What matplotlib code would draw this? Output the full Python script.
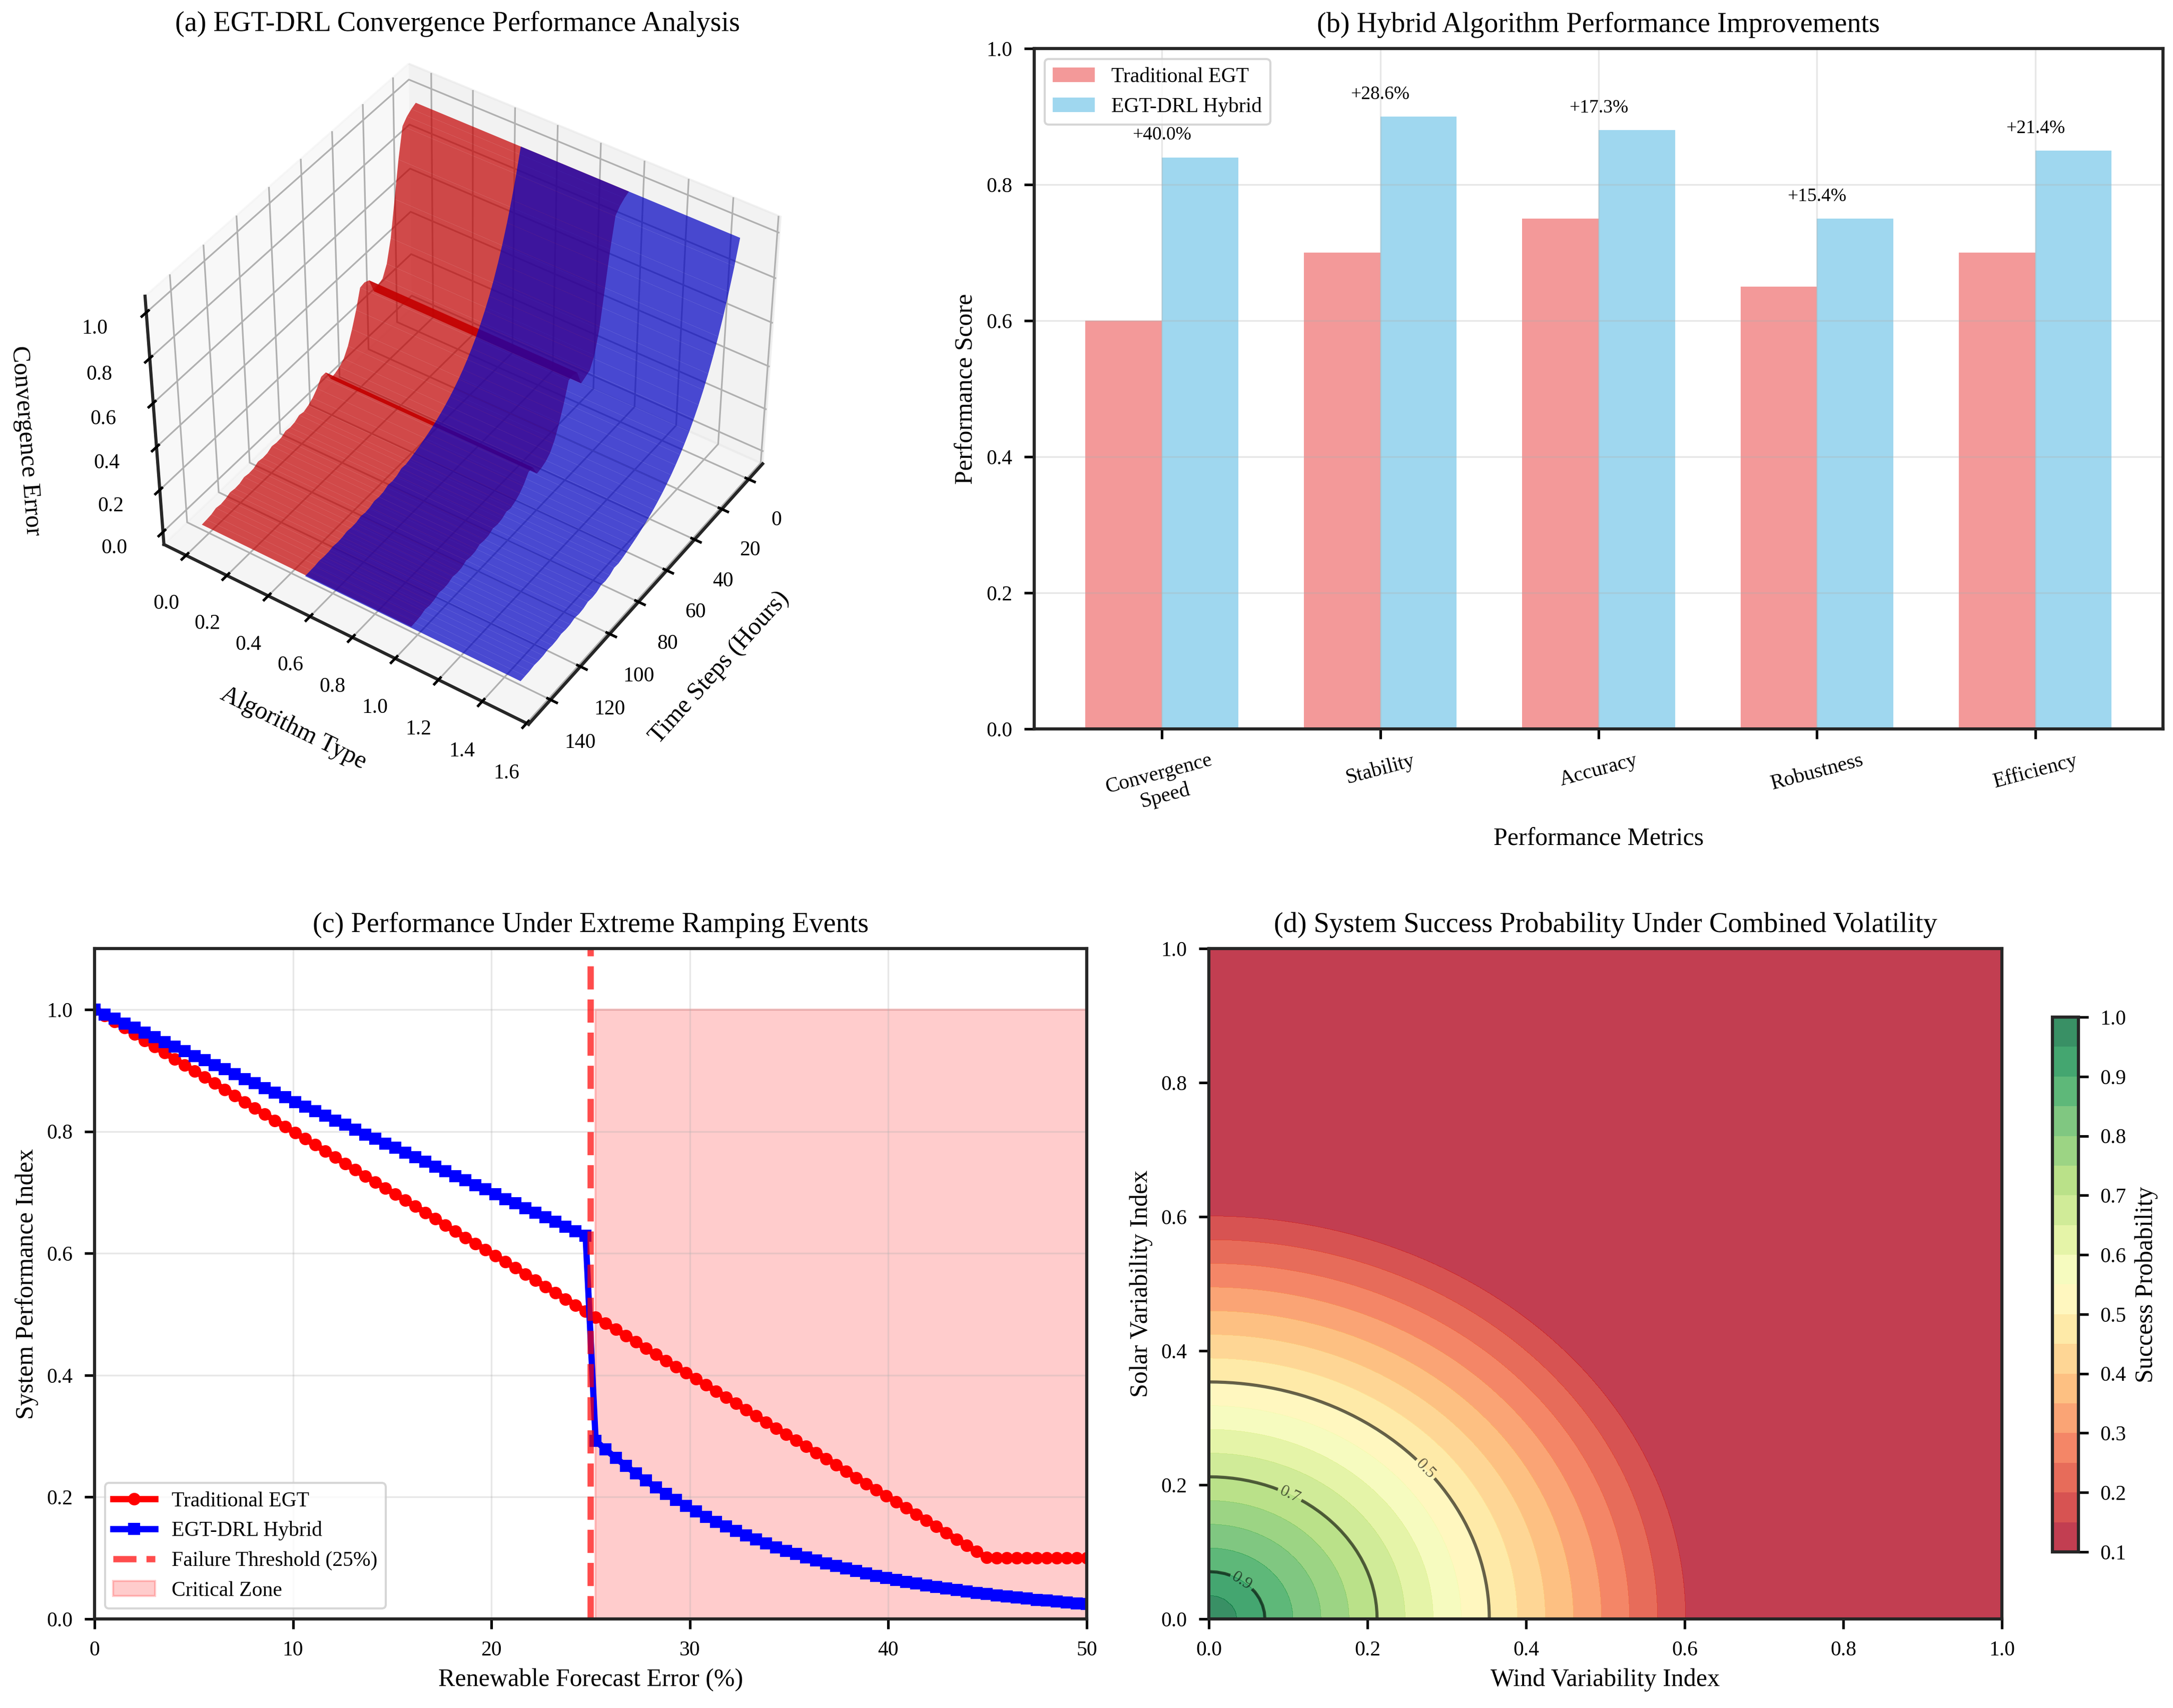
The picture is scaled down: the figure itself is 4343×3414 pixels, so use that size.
import numpy as np
import matplotlib
matplotlib.use("Agg")
import matplotlib.pyplot as plt
from mpl_toolkits.mplot3d import Axes3D  # noqa

plt.rcParams['font.family'] = ['Liberation Serif', 'DejaVu Serif']
plt.rcParams['font.size'] = 10
plt.rcParams['axes.linewidth'] = 1.5
plt.rcParams['axes.edgecolor'] = '0.15'
for ax_ in ('xtick', 'ytick'):
    plt.rcParams[f'{ax_}.major.size'] = 4.8
    plt.rcParams[f'{ax_}.major.width'] = 1.25
    plt.rcParams[f'{ax_}.major.pad'] = 5.6
plt.rcParams['axes.titlepad'] = 8

# ---------------- data ----------------
# (a) convergence error surfaces
hours = [0, 3, 6, 9, 12, 15, 18, 21, 24, 27, 30, 33, 36, 39, 42, 45, 48, 51, 54, 57,
         60, 63, 66, 69, 72, 75, 78, 81, 84, 87, 90, 93, 96, 99, 102, 105, 108, 111,
         114, 117, 120, 123, 126, 129, 132, 135, 138, 141, 144]
trad_err = [1.00, 0.99, 0.975, 0.95, 0.82, 0.66, 0.50, 0.40, 0.35, 0.34, 0.33, 0.40,
            0.41, 0.405, 0.32, 0.25, 0.19, 0.15, 0.13, 0.12, 0.115, 0.165, 0.165, 0.13,
            0.105, 0.09, 0.08, 0.085, 0.072, 0.068, 0.072, 0.06, 0.058, 0.062, 0.05,
            0.048, 0.052, 0.04, 0.038, 0.042, 0.032, 0.03, 0.034, 0.024, 0.02, 0.024,
            0.015, 0.012, 0.01]
hyb_err = [1.00, 0.895, 0.801, 0.717, 0.641, 0.574, 0.513, 0.459, 0.411, 0.368, 0.329,
           0.295, 0.264, 0.236, 0.211, 0.189, 0.169, 0.151, 0.135, 0.121, 0.108, 0.097,
           0.087, 0.078, 0.070, 0.062, 0.056, 0.058, 0.045, 0.040, 0.043, 0.032, 0.029,
           0.032, 0.023, 0.020, 0.024, 0.016, 0.015, 0.018, 0.012, 0.010, 0.013, 0.008,
           0.0075, 0.010, 0.006, 0.0054, 0.0048]
alg_trad = [0.0, 1.0]
alg_hyb = [0.5, 1.5]

# (b) performance metrics
metrics = ['Convergence\nSpeed', 'Stability', 'Accuracy', 'Robustness', 'Efficiency']
trad_scores = [0.60, 0.70, 0.75, 0.65, 0.70]
hyb_scores = [0.84, 0.90, 0.88, 0.75, 0.85]

# (c) extreme ramping events
forecast_err = [0.0, 0.505, 1.01, 1.515, 2.02, 2.525, 3.03, 3.535, 4.04, 4.545,
                5.051, 5.556, 6.061, 6.566, 7.071, 7.576, 8.081, 8.586, 9.091, 9.596,
                10.101, 10.606, 11.111, 11.616, 12.121, 12.626, 13.131, 13.636, 14.141, 14.646,
                15.152, 15.657, 16.162, 16.667, 17.172, 17.677, 18.182, 18.687, 19.192, 19.697,
                20.202, 20.707, 21.212, 21.717, 22.222, 22.727, 23.232, 23.737, 24.242, 24.747,
                25.253, 25.758, 26.263, 26.768, 27.273, 27.778, 28.283, 28.788, 29.293, 29.798,
                30.303, 30.808, 31.313, 31.818, 32.323, 32.828, 33.333, 33.838, 34.343, 34.848,
                35.354, 35.859, 36.364, 36.869, 37.374, 37.879, 38.384, 38.889, 39.394, 39.899,
                40.404, 40.909, 41.414, 41.919, 42.424, 42.929, 43.434, 43.939, 44.444, 44.949,
                45.455, 45.96, 46.465, 46.97, 47.475, 47.98, 48.485, 48.99, 49.495, 50.0]
trad_perf = [1.000, 0.990, 0.980, 0.970, 0.960, 0.949, 0.939, 0.929, 0.919, 0.909,
             0.899, 0.889, 0.879, 0.869, 0.859, 0.848, 0.838, 0.828, 0.818, 0.808,
             0.798, 0.788, 0.778, 0.768, 0.758, 0.747, 0.737, 0.727, 0.717, 0.707,
             0.697, 0.687, 0.677, 0.667, 0.657, 0.646, 0.636, 0.626, 0.616, 0.606,
             0.596, 0.586, 0.576, 0.566, 0.556, 0.545, 0.535, 0.525, 0.515, 0.505,
             0.495, 0.485, 0.475, 0.465, 0.455, 0.444, 0.434, 0.424, 0.414, 0.404,
             0.394, 0.384, 0.374, 0.364, 0.354, 0.343, 0.333, 0.323, 0.313, 0.303,
             0.293, 0.283, 0.273, 0.263, 0.253, 0.242, 0.232, 0.222, 0.212, 0.202,
             0.192, 0.182, 0.172, 0.162, 0.152, 0.141, 0.131, 0.121, 0.111, 0.101,
             0.100, 0.100, 0.100, 0.100, 0.100, 0.100, 0.100, 0.100, 0.100, 0.100]
hyb_perf = [1.000, 0.992, 0.985, 0.977, 0.970, 0.962, 0.955, 0.947, 0.939, 0.932,
            0.924, 0.917, 0.909, 0.902, 0.894, 0.886, 0.879, 0.871, 0.864, 0.856,
            0.848, 0.841, 0.833, 0.826, 0.818, 0.811, 0.803, 0.795, 0.788, 0.780,
            0.773, 0.765, 0.758, 0.750, 0.742, 0.735, 0.727, 0.720, 0.712, 0.705,
            0.697, 0.689, 0.682, 0.674, 0.667, 0.659, 0.652, 0.644, 0.636, 0.629,
            0.2925, 0.2781, 0.2644, 0.2514, 0.2390, 0.2272, 0.2160, 0.2054, 0.1953, 0.1857,
            0.1765, 0.1678, 0.1596, 0.1517, 0.1442, 0.1371, 0.1304, 0.1240, 0.1179, 0.1121,
            0.1065, 0.1013, 0.0963, 0.0916, 0.0871, 0.0828, 0.0787, 0.0748, 0.0711, 0.0676,
            0.0643, 0.0611, 0.0581, 0.0553, 0.0525, 0.0500, 0.0475, 0.0452, 0.0429, 0.0408,
            0.0388, 0.0369, 0.0351, 0.0334, 0.0317, 0.0302, 0.0287, 0.0273, 0.0259, 0.0247]
failure_threshold = 25
critical_top = 1.0

grid_axis = np.linspace(0, 1, 100)
prob_decay = 1.414      # probability lost per unit of combined volatility
prob_floor = 0.1
contour_levels = [0.5, 0.7, 0.9]
label_spots = [(0.276, 0.227), (0.103, 0.188), (0.043, 0.059)]

# ---------------- figure ----------------
fig = plt.figure(figsize=(4343 / 300, 3414 / 300), dpi=300)

# (a) 3D surfaces
ax1 = fig.add_axes([0.0385, 0.568, 0.344, 0.404], projection='3d')
Xt, Yt = np.meshgrid(alg_trad, hours)
Xh, Yh = np.meshgrid(alg_hyb, hours)
Zt = np.tile(np.array(trad_err)[:, None], (1, 2))
Zh = np.tile(np.array(hyb_err)[:, None], (1, 2))
ax1.plot_surface(Xt, Yt, Zt, color='red', alpha=0.7)
ax1.plot_surface(Xh, Yh, Zh, color='blue', alpha=0.7)
ax1.set_xlim(1.609, -0.109)
ax1.set_ylim(-10.5, 154.5)
ax1.set_zlim(-0.06, 1.07)
ax1.view_init(elev=42, azim=124)
ax1.zaxis.set_ticks_position('upper')
ax1.zaxis.set_label_position('upper')
ax1.set_xlabel('Algorithm Type', fontsize=12, labelpad=12)
ax1.set_ylabel('Time Steps (Hours)', fontsize=12, labelpad=12)
ax1.set_zlabel('Convergence Error', fontsize=12, labelpad=14)
ax1.set_title('(a) EGT-DRL Convergence Performance Analysis', fontsize=13.5)
ax1.tick_params(labelsize=10)

# (b) bars
ax2 = fig.add_axes([0.4759, 0.5732, 0.5195, 0.3984])
xpos = np.arange(len(metrics))
w = 0.35
ax2.bar(xpos - w / 2, trad_scores, w, label='Traditional EGT', color='lightcoral', alpha=0.8)
ax2.bar(xpos + w / 2, hyb_scores, w, label='EGT-DRL Hybrid', color='skyblue', alpha=0.8)
for i in range(len(metrics)):
    imp = (hyb_scores[i] - trad_scores[i]) / trad_scores[i] * 100
    ax2.text(xpos[i], hyb_scores[i] + 0.02, f'+{imp:.1f}%', ha='center', va='bottom', fontsize=9)
ax2.set_xticks(xpos)
ax2.set_xticklabels(metrics, rotation=15)
ax2.set_ylim(0, 1.0)
ax2.set_xlabel('Performance Metrics', fontsize=12)
ax2.set_ylabel('Performance Score', fontsize=12)
ax2.set_title('(b) Hybrid Algorithm Performance Improvements', fontsize=13.5)
ax2.legend(loc='upper left', fontsize=10)
ax2.grid(True, alpha=0.3)

# (c) lines
ax3 = fig.add_axes([0.0435, 0.0521, 0.4566, 0.3925])
ax3.plot(forecast_err, trad_perf, 'o-', color='red', lw=3, ms=5, label='Traditional EGT')
ax3.plot(forecast_err, hyb_perf, 's-', color='blue', lw=3, ms=5, label='EGT-DRL Hybrid')
ax3.axvline(failure_threshold, color='red', ls='--', lw=3, alpha=0.7, label='Failure Threshold (25%)')
xs = np.array(forecast_err)
ax3.fill_between(xs, 0, critical_top, where=xs >= failure_threshold, color='red', alpha=0.2,
                 label='Critical Zone')
ax3.set_xlim(0, 50)
ax3.set_ylim(0, 1.1)
ax3.set_xlabel('Renewable Forecast Error (%)', fontsize=12)
ax3.set_ylabel('System Performance Index', fontsize=12)
ax3.set_title('(c) Performance Under Extreme Ramping Events', fontsize=13.5)
ax3.legend(loc='lower left', fontsize=10)
ax3.grid(True, alpha=0.3)

# (d) contour
ax4 = fig.add_axes([0.5563, 0.0521, 0.3650, 0.3925])
W, S = np.meshgrid(grid_axis, grid_axis)
R = np.sqrt(W ** 2 + S ** 2)
P = np.clip(1 - prob_decay * R, prob_floor, 1.0)
cf = ax4.contourf(W, S, P, levels=20, cmap='RdYlGn', alpha=0.8)
cs = ax4.contour(W, S, P, levels=contour_levels, colors='black', alpha=0.6, linewidths=1.5)
ax4.clabel(cs, inline=True, fontsize=8, manual=label_spots)
ax4.set_xlabel('Wind Variability Index', fontsize=12)
ax4.set_ylabel('Solar Variability Index', fontsize=12)
ax4.set_title('(d) System Success Probability Under Combined Volatility', fontsize=13.5)
cax = fig.add_axes([0.9445, 0.0914, 0.0120, 0.3131])
cb = fig.colorbar(cf, cax=cax)
cb.set_label('Success Probability', fontsize=12)
cb.set_ticks([0.1, 0.2, 0.3, 0.4, 0.5, 0.6, 0.7, 0.8, 0.9, 1.0])

fig.savefig('out.png', dpi=300)
